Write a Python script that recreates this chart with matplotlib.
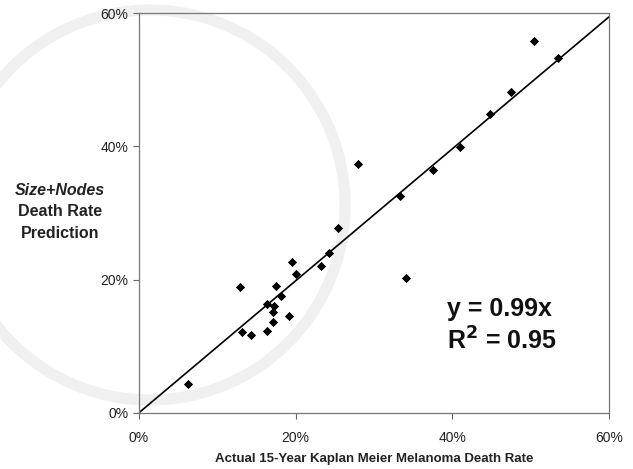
import numpy as np
import matplotlib
matplotlib.use("Agg")
import matplotlib.pyplot as plt
from matplotlib.patches import Ellipse
from matplotlib.ticker import PercentFormatter

plt.rcParams['font.family'] = ['Liberation Sans', 'DejaVu Sans']

# Datos (porcentajes)
actual = [6.3, 12.9, 13.1, 14.3, 16.4, 16.4, 17.5, 17.3, 17.1, 17.1, 18.1, 19.1,
          19.6, 20.1, 23.2, 24.3, 25.4, 28.0, 33.3, 34.1, 37.5, 41.0, 44.8, 47.5,
          50.4, 53.5]
predicted = [4.3, 18.9, 12.1, 11.7, 12.3, 16.3, 19.1, 16.0, 15.1, 13.6, 17.5, 14.5,
             22.7, 20.9, 22.0, 24.0, 27.8, 37.4, 32.6, 20.2, 36.5, 39.9, 44.8, 48.1,
             55.8, 53.2]
slope = 0.99
fit_x = [0, 60]
ticks = [0, 20, 40, 60]

fig = plt.figure(figsize=(6.33, 4.69), dpi=100)

# marca de agua tenue (fondo)
bg = fig.add_axes([0, 0, 1, 1], zorder=-1)
bg.set_xlim(0, 633)
bg.set_ylim(469, 0)
bg.axis('off')
bg.add_patch(Ellipse((150, 205), 390, 390, fill=False, edgecolor='#f0f0f0', linewidth=8))

ax = fig.add_axes([0.2196, 0.12, 0.742, 0.852], zorder=1)
ax.patch.set_alpha(0)

ax.plot(fit_x, [slope * v for v in fit_x], color='black', lw=1.2, zorder=2)
ax.scatter(actual, predicted, marker='D', s=22, color='black', zorder=3, linewidths=0)

ax.set_xlim(0, 60)
ax.set_ylim(0, 60)
ax.set_xticks(ticks)
ax.set_yticks(ticks)
ax.xaxis.set_major_formatter(PercentFormatter(decimals=0))
ax.yaxis.set_major_formatter(PercentFormatter(decimals=0))
ax.tick_params(direction='out', length=4, width=0.8, color='#666666',
               labelsize=10, labelcolor='#222222')
ax.tick_params(axis='x', pad=9)
for s in ax.spines.values():
    s.set_color('#777777')
    s.set_linewidth(0.9)

ax.set_xlabel('Actual 15-Year Kaplan Meier Melanoma Death Rate',
              fontsize=9.5, fontweight='bold', color='#222222', labelpad=6)

fig.text(0.095, 0.594, 'Size+Nodes', fontsize=11.5, fontweight='bold', style='italic',
         ha='center', va='center', color='#222222')
fig.text(0.095, 0.548, 'Death Rate', fontsize=11.5, fontweight='bold',
         ha='center', va='center', color='#222222')
fig.text(0.095, 0.503, 'Prediction', fontsize=11.5, fontweight='bold',
         ha='center', va='center', color='#222222')

ax.text(0.655, 0.26, 'y = 0.99x', transform=ax.transAxes, fontsize=18,
        fontweight='bold', color='#111111', va='center')
ax.text(0.655, 0.18, r'R$^\mathbf{2}$ = 0.95', transform=ax.transAxes, fontsize=18,
        fontweight='bold', color='#111111', va='center')

fig.savefig('out.png', dpi=100)
